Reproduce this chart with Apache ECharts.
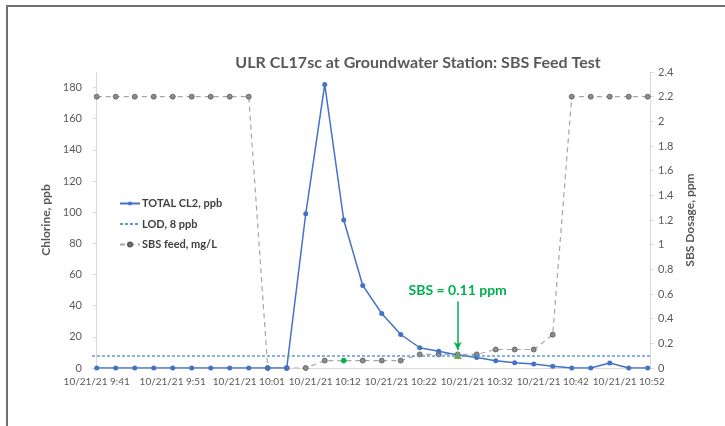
<!DOCTYPE html>
<html>
<head>
<meta charset="utf-8">
<script src="https://cdn.jsdelivr.net/npm/echarts@6/dist/echarts.min.js"></script>
<style>
html,body{margin:0;padding:0;background:#fff;}
#frame{position:absolute;left:6px;top:5px;width:900px;height:600px;border-left:2px solid #707070;border-top:2px solid #707070;}
#chart{position:absolute;left:0;top:0;width:725px;height:426px;}
</style>
</head>
<body>
<div id="frame"></div>
<div id="chart"></div>
<script>
// Sample times (categories); only every 4th is labelled in the chart
const times = ['10/21/21 9:41','10/21/21 9:43','10/21/21 9:46','10/21/21 9:48','10/21/21 9:51','10/21/21 9:53','10/21/21 9:56','10/21/21 9:58',
  '10/21/21 10:01','10/21/21 10:04','10/21/21 10:07','10/21/21 10:09','10/21/21 10:12','10/21/21 10:14','10/21/21 10:17','10/21/21 10:19',
  '10/21/21 10:22','10/21/21 10:24','10/21/21 10:27','10/21/21 10:29','10/21/21 10:32','10/21/21 10:34','10/21/21 10:37','10/21/21 10:39',
  '10/21/21 10:42','10/21/21 10:44','10/21/21 10:47','10/21/21 10:49','10/21/21 10:52','10/21/21 10:54'];
const labelIdx = [0,4,8,12,16,20,24,28];
// TOTAL CL2, ppb (left axis)
const cl2 = [0,0,0,0,0,0,0,0,0,0,0,99,182,95,53,35,21.5,13,10.8,8.3,6.8,4.7,3.4,2.5,1.2,0,0,3.2,0,0];
// SBS feed, mg/L (right axis)
const sbs = [2.2,2.2,2.2,2.2,2.2,2.2,2.2,2.2,2.2,0,0,0,0.06,0.06,0.06,0.06,0.06,0.11,0.11,0.11,0.11,0.15,0.15,0.15,0.27,2.2,2.2,2.2,2.2,2.2];
const lod = 8;
const sbsHighlightIdx = 13;
const annotIdx = 19;
const annotText = 'SBS = 0.11 ppm';

const FONT = 'Lato, "Open Sans", sans-serif';
const GREEN = '#00b050';

const cl2Data = cl2.map((v,i)=> i===annotIdx
  ? {value:[i,v], symbol:'triangle', symbolSize:8, itemStyle:{color:'#70ad47'}}
  : [i,v]);
const sbsData = sbs.map((v,i)=> i===sbsHighlightIdx
  ? {value:[i,v], itemStyle:{color:GREEN, borderColor:GREEN}}
  : [i,v]);

const chart = echarts.init(document.getElementById('chart'), null, {renderer:'canvas'});
chart.setOption({
  backgroundColor:'transparent',
  animation:false,
  textStyle:{fontFamily:FONT},
  title:{
    text:'ULR CL17sc at Groundwater Station: SBS Feed Test',
    left:413, top:50, textAlign:'center',
    textStyle:{fontFamily:FONT, fontSize:16, fontWeight:'bold', color:'#595959'}
  },
  legend:{
    orient:'vertical', left:114, top:193, itemWidth:20, itemHeight:5, itemGap:9.5,
    textStyle:{fontFamily:FONT, fontSize:11, fontWeight:'bold', color:'#404040', padding:[0,0,0,-3]},
    data:['TOTAL CL2, ppb',{name:'LOD, 8 ppb', itemStyle:{opacity:0}},'SBS feed, mg/L']
  },
  grid:{left:92, right:75, top:72, bottom:58, containLabel:false},
  xAxis:{
    type:'value', min:-0.25, max:29.12,
    splitLine:{show:false},
    axisTick:{show:false},
    axisLine:{show:true, onZero:false, lineStyle:{color:'#d9d9d9'}},
    axisLabel:{customValues:labelIdx, formatter:(v)=>times[Math.round(v)], color:'#595959', fontSize:10, margin:9, fontFamily:FONT, hideOverlap:false}
  },
  yAxis:[{
    type:'value', min:0, max:190, interval:20, position:'left',
    name:'Chlorine, ppb', nameLocation:'middle', nameGap:30, nameRotate:90,
    nameTextStyle:{fontFamily:FONT, fontSize:12, fontWeight:'bold', color:'#595959'},
    axisLine:{show:true, lineStyle:{color:'#d9d9d9'}},
    axisTick:{show:true, length:4, lineStyle:{color:'#d9d9d9'}},
    axisLabel:{color:'#595959', fontSize:11, margin:10, showMaxLabel:false, fontFamily:FONT},
    splitLine:{show:false}
  },{
    type:'value', min:0, max:2.4, interval:0.2, position:'right',
    name:'SBS Dosage, ppm', nameLocation:'middle', nameGap:30, nameRotate:90,
    nameTextStyle:{fontFamily:FONT, fontSize:12, fontWeight:'bold', color:'#595959'},
    axisLine:{show:true, lineStyle:{color:'#d9d9d9'}},
    axisTick:{show:true, length:4, lineStyle:{color:'#d9d9d9'}},
    axisLabel:{color:'#595959', fontSize:11, margin:8, fontFamily:FONT,
      formatter:(v)=>String(Math.round(v*10)/10)},
    splitLine:{show:false}
  }],
  series:[{
    name:'TOTAL CL2, ppb', type:'line', yAxisIndex:0, data:cl2Data,
    symbol:'circle', symbolSize:5, z:3,
    lineStyle:{color:'#4472c4', width:1.5},
    itemStyle:{color:'#4472c4'}
  },{
    name:'LOD, 8 ppb', type:'line', yAxisIndex:0, data:[],
    symbol:'none',
    lineStyle:{color:'#5b9bd5', width:1.5, type:[3,2]},
    itemStyle:{color:'#5b9bd5'},
    markLine:{
      silent:true, symbol:'none', label:{show:false},
      lineStyle:{color:'#5b9bd5', width:1.5, type:[3,2]},
      data:[{yAxis:lod}]
    }
  },{
    name:'SBS feed, mg/L', type:'line', yAxisIndex:1, data:sbsData,
    symbol:'circle', symbolSize:5, z:2,
    lineStyle:{color:'#a6a6a6', width:1.2, type:[5,4]},
    itemStyle:{color:'#8c8c8c', borderColor:'#595959', borderWidth:0.8},
    markLine:{
      silent:true,
      lineStyle:{color:GREEN, width:1.5, type:'solid'},
      symbol:['none','arrow'], symbolSize:[6,8],
      label:{show:true, position:'start', formatter:annotText, color:GREEN,
        fontFamily:FONT, fontSize:14, fontWeight:'bold', distance:4},
      data:[[{coord:[annotIdx, sbs[annotIdx]+0.43]},{coord:[annotIdx, sbs[annotIdx]+0.035]}]]
    }
  }]
});
</script>
</body>
</html>
